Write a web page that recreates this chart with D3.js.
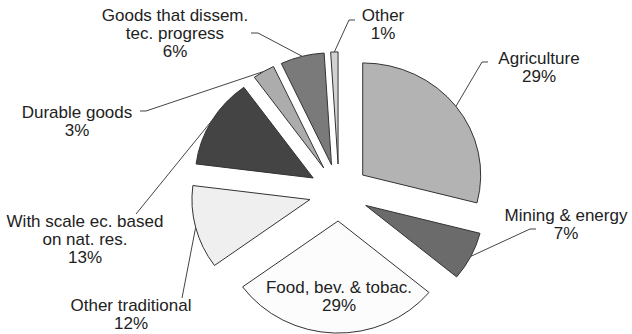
<!DOCTYPE html>
<html>
<head>
<meta charset="utf-8">
<script src="https://cdn.jsdelivr.net/npm/d3@7/dist/d3.min.js"></script>
<style>
  html, body { margin: 0; padding: 0; background: #fff; }
  svg { display: block; }
  text { font-family: "Liberation Sans", Arial, sans-serif; font-size: 17px; fill: #222; }
</style>
</head>
<body>
<svg id="chart" width="632" height="334"></svg>
<script>
// Sector shares of manufacturing/primary output (percent)
const sectors = [
  "Agriculture",
  "Mining & energy",
  "Food, bev. & tobac.",
  "Other traditional",
  "With scale ec. based on nat. res.",
  "Durable goods",
  "Goods that dissem. tec. progress",
  "Other"
];
const shares = [29, 7, 29, 12, 13, 3, 6, 1];
const labelLines = [
  ["Agriculture"],
  ["Mining & energy"],
  ["Food, bev. & tobac."],
  ["Other traditional"],
  ["With scale ec. based", "on nat. res."],
  ["Durable goods"],
  ["Goods that dissem.", "tec. progress"],
  ["Other"]
];
const fills = ["#b3b3b3", "#6b6b6b", "#fcfcfc", "#efefef", "#444444", "#acacac", "#7a7a7a", "#d2d2d2"];

// Layout
const W = 632, H = 334;
const cx = 339, cy = 192.5;
const R = 118;          // slice radius
const explode = 30;     // distance each slice is pulled out
const squash = 0.95;    // vertical flattening of the pie
const lineH = 18;

// Label anchors (center x, first baseline) and leader bend points
const labelPos = [
  { x: 539, y: 64,  leader: [[482, 62], [488, 62]] },
  { x: 566, y: 221, leader: [[530, 229], [536, 229]] },
  { x: 339, y: 293, leader: null },
  { x: 131, y: 311, leader: [[182, 298]] },
  { x: 85,  y: 227, leader: [[136, 214]] },
  { x: 77,  y: 118, leader: [[146, 111], [140, 111]] },
  { x: 175, y: 21,  leader: [[258, 33], [251, 33]] },
  { x: 383, y: 21,  leader: [[349, 20], [355, 20]] }
];

const svg = d3.select("#chart");

const pie = d3.pie().sort(null).startAngle(0).endAngle(2 * Math.PI);
const arcs = pie(shares);

const arc = d3.arc().innerRadius(0).outerRadius(R);

// Map a point in pie space (circle coords around origin) to the page
function toPage(p) {
  return [cx + p[0], cy + p[1] * squash];
}
function offsetOf(d) {
  const a = (d.startAngle + d.endAngle) / 2;
  return [Math.sin(a) * explode, -Math.cos(a) * explode];
}

const pieG = svg.append("g")
  .attr("transform", `translate(${cx},${cy}) scale(1,${squash})`);

pieG.selectAll("path.slice")
  .data(arcs)
  .join("path")
  .attr("class", "slice")
  .attr("transform", d => { const o = offsetOf(d); return `translate(${o[0]},${o[1]})`; })
  .attr("d", arc)
  .attr("fill", (d, i) => fills[i])
  .attr("stroke", "#333")
  .attr("stroke-width", 1)
  .attr("stroke-linejoin", "round")
  .attr("vector-effect", "non-scaling-stroke");

// Leader lines start on each slice's outer edge at its mid angle
const line = d3.line();
const leaders = svg.append("g");
arcs.forEach((d, i) => {
  const lp = labelPos[i];
  if (!lp.leader) return;
  const a = (d.startAngle + d.endAngle) / 2;
  const o = offsetOf(d);
  const start = toPage([o[0] + Math.sin(a) * R, o[1] - Math.cos(a) * R]);
  leaders.append("path")
    .attr("d", line([start, ...lp.leader]))
    .attr("fill", "none")
    .attr("stroke", "#444")
    .attr("stroke-width", 1);
});

// Labels: name lines followed by the percentage
const labels = svg.append("g");
arcs.forEach((d, i) => {
  const lp = labelPos[i];
  const lines = labelLines[i].concat([`${shares[i]}%`]);
  const t = labels.append("text")
    .attr("text-anchor", "middle")
    .attr("x", lp.x)
    .attr("y", lp.y);
  lines.forEach((s, k) => {
    t.append("tspan")
      .attr("x", lp.x)
      .attr("dy", k === 0 ? 0 : lineH)
      .text(s);
  });
});
</script>
</body>
</html>
